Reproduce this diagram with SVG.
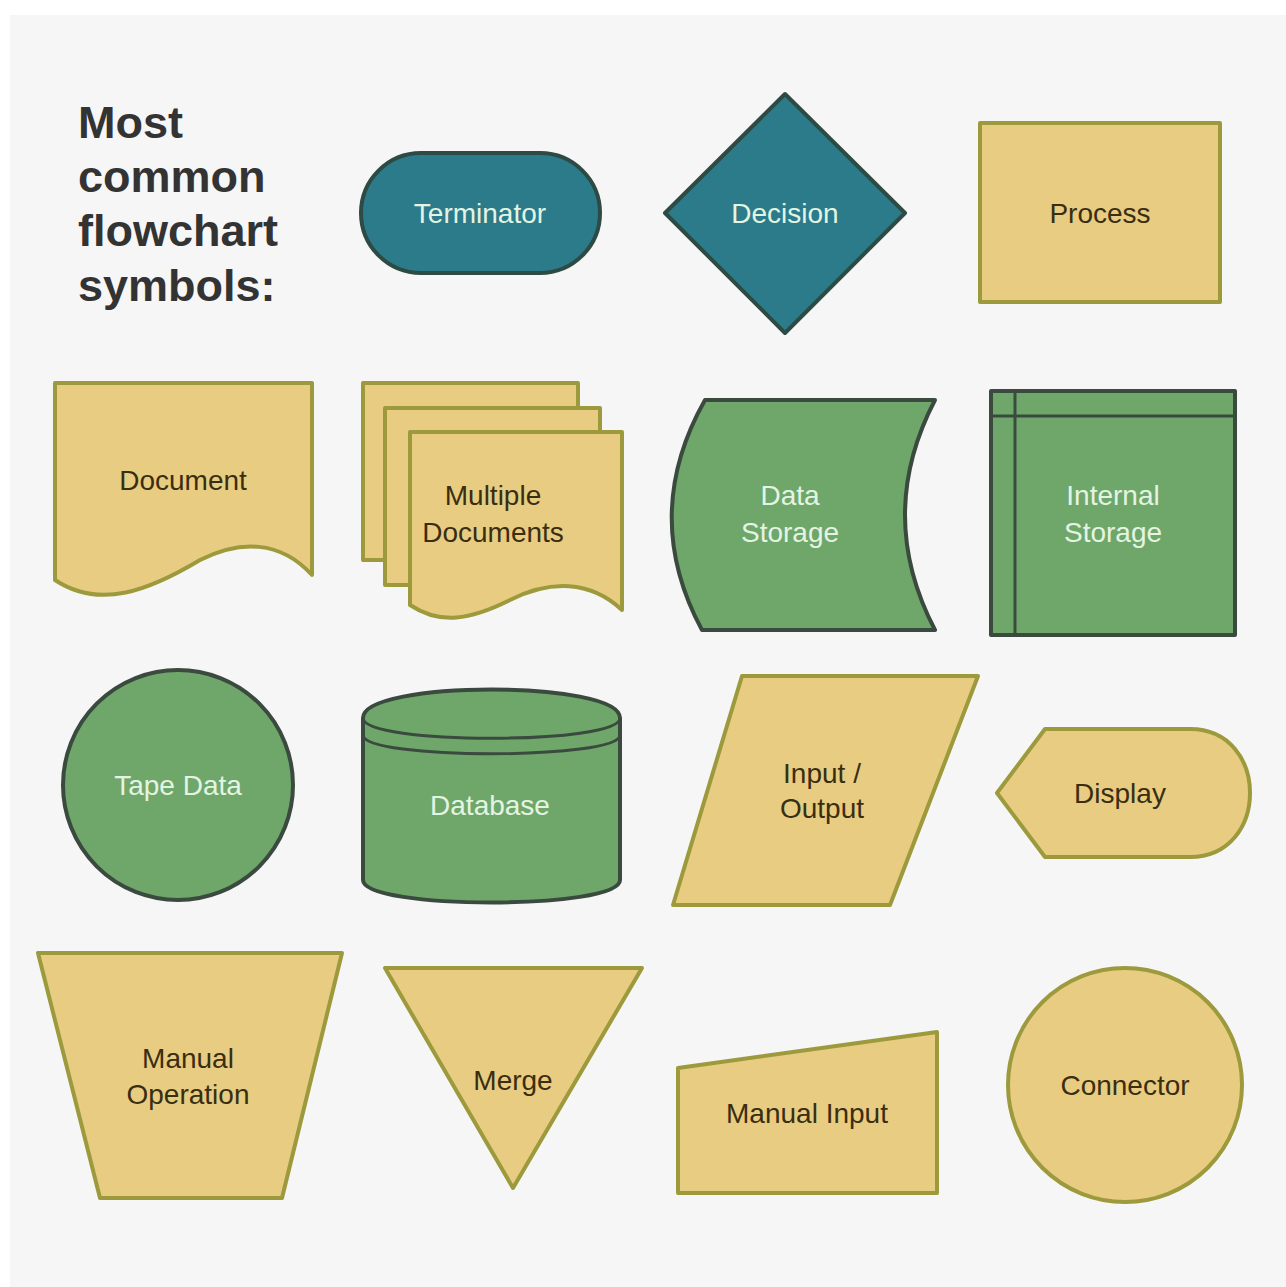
<svg xmlns="http://www.w3.org/2000/svg" width="1286" height="1287" viewBox="0 0 1286 1287">
<style>
.bg{fill:#f6f6f6}
.tan{fill:#e8cc82;stroke:#9c9a3c;stroke-width:4;stroke-linejoin:round}
.grn{fill:#6fa76b;stroke:#3b4a3e;stroke-width:4;stroke-linejoin:round}
.teal{fill:#2b7b8a;stroke:#2d4a44;stroke-width:4;stroke-linejoin:round}
.ln{fill:none;stroke:#3b4a3e;stroke-width:3}
text{font-family:"Liberation Sans",Arial,sans-serif;font-size:28px;text-anchor:middle;dominant-baseline:central}
.dk{fill:#3a2e10}
.lt{fill:#e4f4e2}
.title{font-size:45px;font-weight:bold;fill:#333;text-anchor:start;dominant-baseline:auto}
</style>
<rect width="1286" height="1287" fill="#ffffff"/>
<rect class="bg" x="10" y="15" width="1276" height="1272"/>
<g id="title">
<text class="title" x="78" y="138">Most</text>
<text class="title" x="78" y="192">common</text>
<text class="title" x="78" y="246">flowchart</text>
<text class="title" x="78" y="301">symbols:</text>
</g>
<g id="terminator">
<rect class="teal" x="361" y="153" width="239" height="120" rx="60" ry="60"/>
<text class="lt" x="480" y="213">Terminator</text>
</g>
<g id="decision">
<polygon class="teal" points="785,94 905,213 785,333 665,213"/>
<text class="lt" x="785" y="213">Decision</text>
</g>
<g id="process">
<rect class="tan" x="980" y="123" width="240" height="179"/>
<text class="dk" x="1100" y="213">Process</text>
</g>
<g id="document">
<path class="tan" d="M55,383 H312 V575 C280,540 240,540 200,560 C150,590 100,610 55,580 Z"/>
<text class="dk" x="183" y="480">Document</text>
</g>
<g id="multiple-documents">
<path class="tan" d="M363,383 H578 V560 H363 Z"/>
<path class="tan" d="M385,408 H600 V585 H385 Z"/>
<path class="tan" d="M410,432 H622 V610 C590,580 550,580 510,600 C470,620 440,625 410,605 Z"/>
<text class="dk" x="493" y="495">Multiple</text>
<text class="dk" x="493" y="532">Documents</text>
</g>
<g id="data-storage">
<path class="grn" d="M705,400 H935 Q875,515 935,630 H702 Q640,515 705,400 Z"/>
<text class="lt" x="790" y="495">Data</text>
<text class="lt" x="790" y="532">Storage</text>
</g>
<g id="internal-storage">
<rect class="grn" x="991" y="391" width="244" height="244"/>
<line class="ln" x1="1015" y1="391" x2="1015" y2="635"/>
<line class="ln" x1="991" y1="416" x2="1235" y2="416"/>
<text class="lt" x="1113" y="495">Internal</text>
<text class="lt" x="1113" y="532">Storage</text>
</g>
<g id="tape-data">
<circle class="grn" cx="178" cy="785" r="115"/>
<text class="lt" x="178" y="785">Tape Data</text>
</g>
<g id="database">
<path class="grn" d="M363,718 C363,680 620,680 620,718 V880 C620,910 363,910 363,880 Z"/>
<path class="ln" d="M363,718 C363,745 620,745 620,718"/>
<path class="ln" d="M363,735 C363,760 620,760 620,735"/>
<text class="lt" x="490" y="805">Database</text>
</g>
<g id="input-output">
<polygon class="tan" points="742,676 978,676 890,905 673,905"/>
<text class="dk" x="822" y="773">Input /</text>
<text class="dk" x="822" y="808">Output</text>
</g>
<g id="display">
<path class="tan" d="M997,793 L1045,729 H1190 C1270,729 1270,857 1190,857 H1045 Z"/>
<text class="dk" x="1120" y="793">Display</text>
</g>
<g id="manual-operation">
<polygon class="tan" points="38,953 342,953 282,1198 100,1198"/>
<text class="dk" x="188" y="1058">Manual</text>
<text class="dk" x="188" y="1094">Operation</text>
</g>
<g id="merge">
<polygon class="tan" points="385,968 642,968 513,1188"/>
<text class="dk" x="513" y="1080">Merge</text>
</g>
<g id="manual-input">
<polygon class="tan" points="678,1068 937,1032 937,1193 678,1193"/>
<text class="dk" x="807" y="1113">Manual Input</text>
</g>
<g id="connector">
<circle class="tan" cx="1125" cy="1085" r="117"/>
<text class="dk" x="1125" y="1085">Connector</text>
</g>
<g id="connectors"/>
</svg>
